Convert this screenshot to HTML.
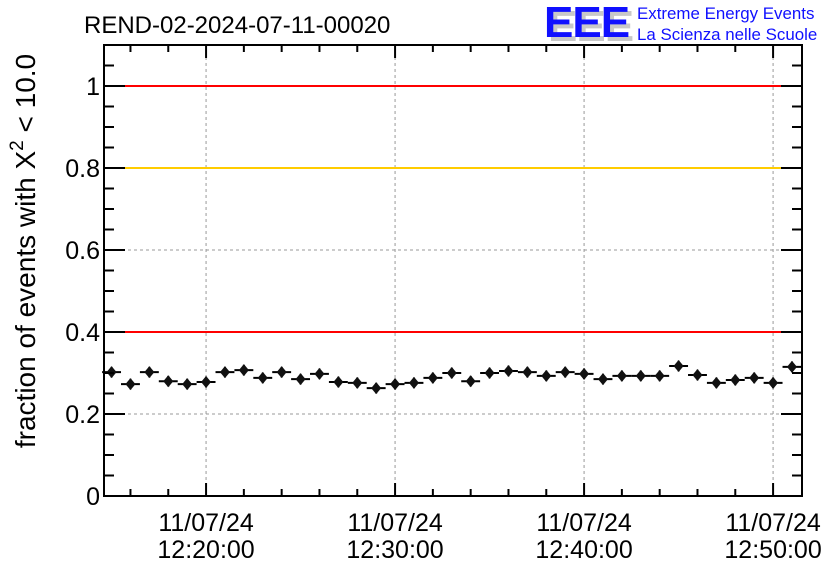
<!DOCTYPE html>
<html><head><meta charset="utf-8"><style>
body{margin:0;background:#fff}
svg{display:block;font-family:"Liberation Sans",Arial,sans-serif}
</style></head><body>
<svg id="chart" width="836" height="572" viewBox="0 0 836 572">
<rect width="836" height="572" fill="#fff"/>
<text x="84" y="33" font-size="24">REND-02-2024-07-11-00020</text>
<g>
<text x="548" y="41" font-size="44" font-weight="bold" fill="#c8c8c8" letter-spacing="-1">EEE</text>
<text x="544" y="37" font-size="44" font-weight="bold" fill="#1010ff" letter-spacing="-1">EEE</text>
<text x="637" y="19" font-size="16.9" fill="#1010ff">Extreme Energy Events</text>
<text x="637" y="40" font-size="16.9" fill="#1010ff">La Scienza nelle Scuole</text>
</g>
<text transform="translate(35,251) rotate(-90)" text-anchor="middle" font-size="28">fraction of events with X<tspan dy="-12" font-size="19">2</tspan><tspan dy="12"> &lt; 10.0</tspan></text>
<g id="grid"></g><g id="refs"></g><g id="marks"></g><g id="axes"></g>
</svg>
<script>
const xTickLabels = ["11/07/24|12:20:00","11/07/24|12:30:00","11/07/24|12:40:00","11/07/24|12:50:00"];
const xTickMinutes = [20,30,40,50];
const yTickValues = [0,0.2,0.4,0.6,0.8,1];
const yTickLabels = ["0","0.2","0.4","0.6","0.8","1"];
const refValues = [1.0,0.8,0.4];
const refColors = ["#ff0000","#ffcc00","#ff0000"];
const values = [0.302,0.273,0.302,0.280,0.273,0.278,0.302,0.307,0.288,0.302,0.285,0.298,0.278,0.276,0.263,0.273,0.276,0.288,0.300,0.280,0.300,0.305,0.302,0.293,0.302,0.298,0.285,0.293,0.293,0.293,0.317,0.295,0.276,0.283,0.288,0.276,0.315];
const errors = [0.013,0.013,0.013,0.013,0.013,0.013,0.013,0.013,0.013,0.013,0.013,0.013,0.013,0.013,0.013,0.013,0.013,0.013,0.013,0.013,0.013,0.013,0.013,0.013,0.013,0.013,0.013,0.013,0.013,0.013,0.013,0.013,0.013,0.013,0.013,0.013,0.013];
const startMinute = 15;
const X0=104,X1=802,Y0=496,Y1=45;
const xMin=14.6,xMax=51.53,yMin=0,yMax=1.1;
const sx=m=>X0+(m-xMin)/(xMax-xMin)*(X1-X0);
const sy=v=>Y0-(v-yMin)/(yMax-yMin)*(Y0-Y1);
const NS="http://www.w3.org/2000/svg";
function mk(p,t,a){const e=document.createElementNS(NS,t);for(const k in a)e.setAttribute(k,a[k]);document.getElementById(p).appendChild(e);return e;}
xTickMinutes.forEach(m=>{const e=mk('grid','line',{x1:sx(m),x2:sx(m),y1:Y1,y2:Y0,stroke:'#999','stroke-dasharray':'3,3'});

});
yTickValues.forEach(v=>{if(v===0)return;const e=mk('grid','line',{x1:X0,x2:X1,y1:sy(v),y2:sy(v),stroke:'#999','stroke-dasharray':'3,3'});

});
refValues.forEach((v,i)=>{const e=mk('refs','line',{x1:X0,x2:X1,y1:sy(v),y2:sy(v),stroke:refColors[i],'stroke-width':2});

});
values.forEach((v,i)=>{const m=startMinute+i;const cx=sx(m),cy=sy(v),hw=(sx(m+0.5)-sx(m));
const g=mk('marks','g',{});


const a=document.createElementNS(NS,'line');a.setAttribute('x1',cx-hw);a.setAttribute('x2',cx+hw);a.setAttribute('y1',cy);a.setAttribute('y2',cy);a.setAttribute('stroke','#000');a.setAttribute('stroke-width',2);g.appendChild(a);
const b=document.createElementNS(NS,'line');b.setAttribute('x1',cx);b.setAttribute('x2',cx);b.setAttribute('y1',sy(v+errors[i]));b.setAttribute('y2',sy(v-errors[i]));b.setAttribute('stroke','#000');b.setAttribute('stroke-width',2);g.appendChild(b);
const d=document.createElementNS(NS,'path');d.setAttribute('d',`M${cx} ${cy-6}L${cx+5} ${cy}L${cx} ${cy+6}L${cx-5} ${cy}Z`);d.setAttribute('fill','#111');g.appendChild(d);});
const fr=mk('axes','rect',{x:X0,y:Y1,width:X1-X0,height:Y0-Y1,fill:'none',stroke:'#000','stroke-width':2});


for(let m=16;m<=xMax;m+=2){const maj=xTickMinutes.includes(m);const L=maj?13:7;
mk('axes','line',{x1:sx(m),x2:sx(m),y1:Y0,y2:Y0-L,stroke:'#000','stroke-width':2});
mk('axes','line',{x1:sx(m),x2:sx(m),y1:Y1,y2:Y1+L,stroke:'#000','stroke-width':2});}
for(let k=1;k<22;k++){const v=k*0.05;const maj=Math.abs(v*5-Math.round(v*5))<1e-6;const L=maj?21:10;
mk('axes','line',{x1:X0,x2:X0+L,y1:sy(v),y2:sy(v),stroke:'#000','stroke-width':2});
mk('axes','line',{x1:X1,x2:X1-L,y1:sy(v),y2:sy(v),stroke:'#000','stroke-width':2});}
yTickValues.forEach((v,i)=>{const t=mk('axes','text',{x:X0-4,y:sy(v)+9,'text-anchor':'end','font-size':25});t.textContent=yTickLabels[i];

});
xTickMinutes.forEach((m,i)=>{const p=xTickLabels[i].split('|');
const t1=mk('axes','text',{x:sx(m),y:531,'text-anchor':'middle','font-size':25});t1.textContent=p[0];


const t2=mk('axes','text',{x:sx(m),y:558,'text-anchor':'middle','font-size':25});t2.textContent=p[1];

});
</script>
</body></html>
